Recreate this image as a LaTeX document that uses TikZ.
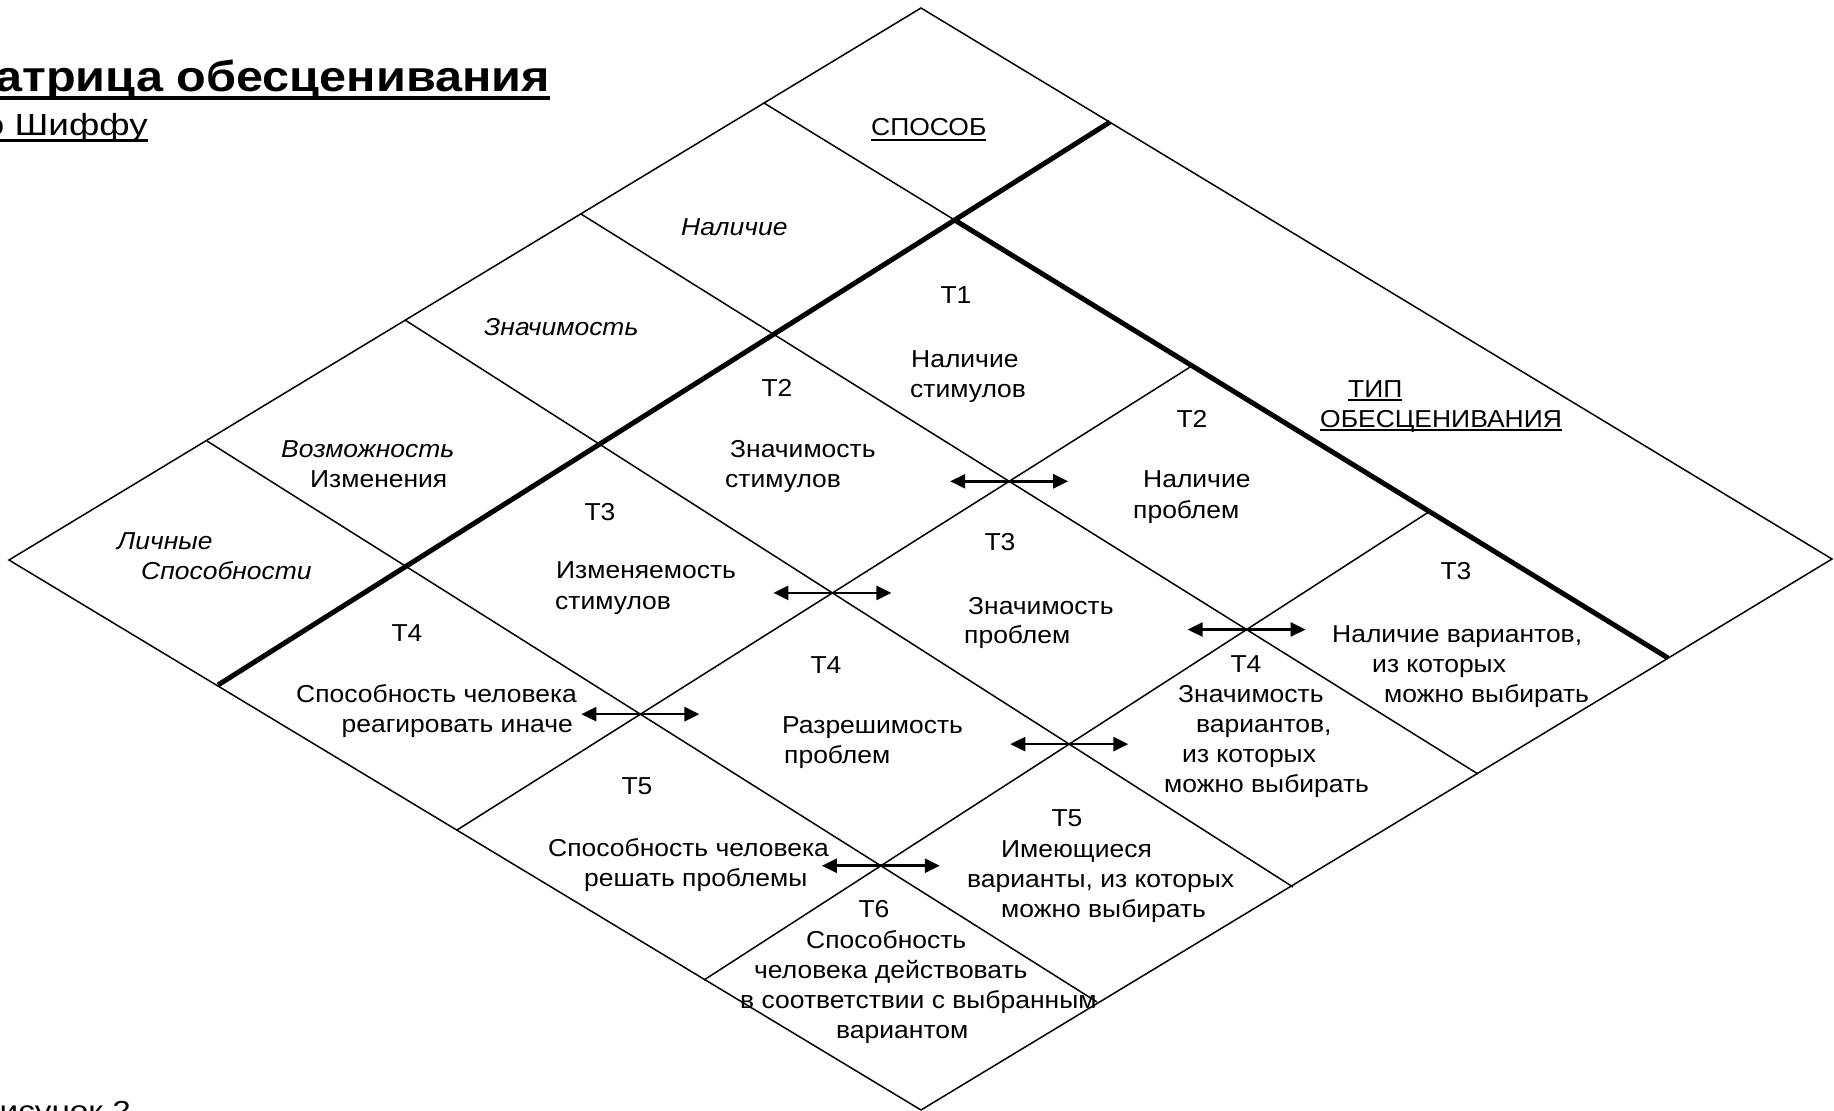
\documentclass[tikz,border=0pt]{standalone}
\usepackage{fontspec}
\setmainfont{Liberation Sans}[FakeStretch=1.08]
\newfontfamily\titlefont{Liberation Sans}[FakeStretch=1.13]
\newfontfamily\capfont{Liberation Sans}[FakeStretch=1.21]
\usetikzlibrary{arrows.meta}
\newcommand{\ulx}[3]{\leavevmode\setbox0=\hbox{#3}\rlap{\rule[-\dimexpr#1+#2\relax]{\wd0}{#2}}\box0}
\begin{document}
\begin{tikzpicture}[x=1pt,y=-1pt,
  gridline/.style={line width=1.5pt},
  heavyline/.style={line width=5pt},
  txt/.style={inner sep=0pt, font=\fontsize{24.5}{30}\selectfont},
  tl/.style={txt, anchor=base west},
  tr/.style={txt, anchor=base east},
  tc/.style={txt, anchor=base},
  it/.style={font=\fontsize{24.5}{30}\selectfont\itshape},
  dbl/.style={line width=2.6pt, {Triangle[length=15pt,width=14pt]}-{Triangle[length=15pt,width=14pt]}}
]
\useasboundingbox (0,0) rectangle (1834,1111);
\fill[white] (0,0) rectangle (1834,1111);
\clip (0,0) rectangle (1834,1111);

% outer diamond
\coordinate (top) at (921,8);
\coordinate (right) at (1832,559);
\coordinate (bottom) at (921,1110);
\coordinate (left) at (9,560);
% lines from upper-left edge to lower-right edge
\coordinate (L0s) at (764,103);  \coordinate (L0e) at (1668,658);
\coordinate (L1s) at (581,214);  \coordinate (L1e) at (1478,774);
\coordinate (L2s) at (405,320);  \coordinate (L2e) at (1293,887);
\coordinate (L3s) at (207,441);  \coordinate (L3e) at (1097,1002);
% lines towards lower-left edge
\coordinate (M0s) at (1110,122); \coordinate (M0e) at (218,685);
\coordinate (M1d) at (1187,369); \coordinate (M1e) at (457,830);
\coordinate (M2d) at (1427,513); \coordinate (M2e) at (704,980);

\coordinate (X00) at (intersection of L0s--L0e and M0s--M0e);
\coordinate (X01) at (intersection of L0s--L0e and M1e--M1d);
\coordinate (X02) at (intersection of L0s--L0e and M2e--M2d);
\coordinate (X11) at (intersection of L1s--L1e and M1e--M1d);
\coordinate (X21) at (intersection of L2s--L2e and M1e--M1d);
\coordinate (X31) at (intersection of L3s--L3e and M1e--M1d);
\coordinate (X12) at (intersection of L1s--L1e and M2e--M2d);
\coordinate (X22) at (intersection of L2s--L2e and M2e--M2d);
\coordinate (X32) at (intersection of L3s--L3e and M2e--M2d);

\draw[gridline, line join=miter] (top) -- (right) -- (bottom) -- (left) -- cycle;
\draw[gridline] (L0s) -- (X00);
\draw[heavyline] (X00) -- (L0e);
\draw[heavyline] (M0s) -- (M0e);
\draw[gridline] (L1s) -- (L1e);
\draw[gridline] (L2s) -- (L2e);
\draw[gridline] (L3s) -- (L3e);
\draw[gridline] (X01) -- (M1e);
\draw[gridline] (X02) -- (M2e);

% double arrows
\foreach \p in {X11,X21,X31,X12,X22,X32}{
  \draw[dbl] ([xshift=-59pt]\p) -- ([xshift=59pt]\p);
}

% title texts
\node[anchor=base east, inner sep=0pt, font=\titlefont\fontsize{43}{50}\selectfont\bfseries] (title) at (550,91) {\ulx{5pt}{4pt}{Матрица обесценивания}};
\node[anchor=base east, inner sep=0pt, font=\capfont\fontsize{30.5}{36}\selectfont] (author) at (148,135) {\ulx{4pt}{2.5pt}{по Шиффу}};
\node[anchor=base east, inner sep=0pt, font=\capfont\fontsize{27.5}{33}\selectfont] (figcap) at (131,1120) {Рисунок 2};

% header cells
\node[tl] (hsp) at (871,135) {\ulx{4pt}{2pt}{СПОСОБ}};
\node[tl, it] (hnal) at (681,235) {Наличие};
\node[tl, it] (hzn) at (484,335) {Значимость};
\node[tl, it] (hvoz) at (281,457) {Возможность};
\node[tl] (hizm) at (310,487) {Изменения};
\node[tl, it] (hlich) at (117,549) {Личные};
\node[tl, it] (hspos) at (141,579) {Способности};
\node[tl] (htip) at (1348,397) {\ulx{2pt}{2pt}{ТИП}};
\node[tl] (hobes) at (1320,427) {\ulx{2pt}{2pt}{ОБЕСЦЕНИВАНИЯ}};

% column 1
\node[tc] (t1a) at (956,303) {T1};
\node[tl] (t1b) at (911,367) {Наличие};
\node[tl] (t1c) at (910,397) {стимулов};

\node[tc] (t2a) at (777,396) {T2};
\node[tl] (t2b) at (730,457) {Значимость};
\node[tl] (t2c) at (725,487) {стимулов};

\node[tc] (t3a) at (600,520) {T3};
\node[tl] (t3b) at (556,578) {Изменяемость};
\node[tl] (t3c) at (555,609) {стимулов};

\node[tc] (t4a) at (407,641) {T4};
\node[tl] (t4b) at (296,702) {Способность человека};
\node[tr] (t4c) at (573,732) {реагировать иначе};

% column 2
\node[tc] (u2a) at (1192,427) {T2};
\node[tl] (u2b) at (1143,487) {Наличие};
\node[tl] (u2c) at (1133,518) {проблем};

\node[tc] (u3a) at (1000,550) {T3};
\node[tl] (u3b) at (968,614) {Значимость};
\node[tl] (u3c) at (964,643) {проблем};

\node[tc] (u4a) at (826,673) {T4};
\node[tl] (u4b) at (782,733) {Разрешимость};
\node[tl] (u4c) at (784,763) {проблем};

\node[tc] (u5a) at (637,794) {T5};
\node[tl] (u5b) at (548,856) {Способность человека};
\node[tl] (u5c) at (584,886) {решать проблемы};

% column 3
\node[tc] (v3a) at (1456,579) {T3};
\node[tl] (v3b) at (1332,642) {Наличие вариантов,};
\node[tl] (v3c) at (1372,672) {из которых};
\node[tl] (v3d) at (1384,702) {можно выбирать};

\node[tc] (v4a) at (1246,672) {T4};
\node[tl] (v4b) at (1178,702) {Значимость};
\node[tl] (v4c) at (1196,732) {вариантов,};
\node[tl] (v4d) at (1182,762) {из которых};
\node[tl] (v4e) at (1164,792) {можно выбирать};

\node[tc] (v5a) at (1067,826) {T5};
\node[tl] (v5b) at (1001,857) {Имеющиеся};
\node[tl] (v5c) at (967,887) {варианты, из которых};
\node[tl] (v5d) at (1001,917) {можно выбирать};

\node[tc] (v6a) at (874,917) {T6};
\node[tl] (v6b) at (806,948) {Способность};
\node[tl] (v6c) at (754,978) {человека действовать};
\node[tl] (v6d) at (740,1008) {в соответствии с выбранным};
\node[tl] (v6e) at (836,1038) {вариантом};
\end{tikzpicture}
\end{document}
